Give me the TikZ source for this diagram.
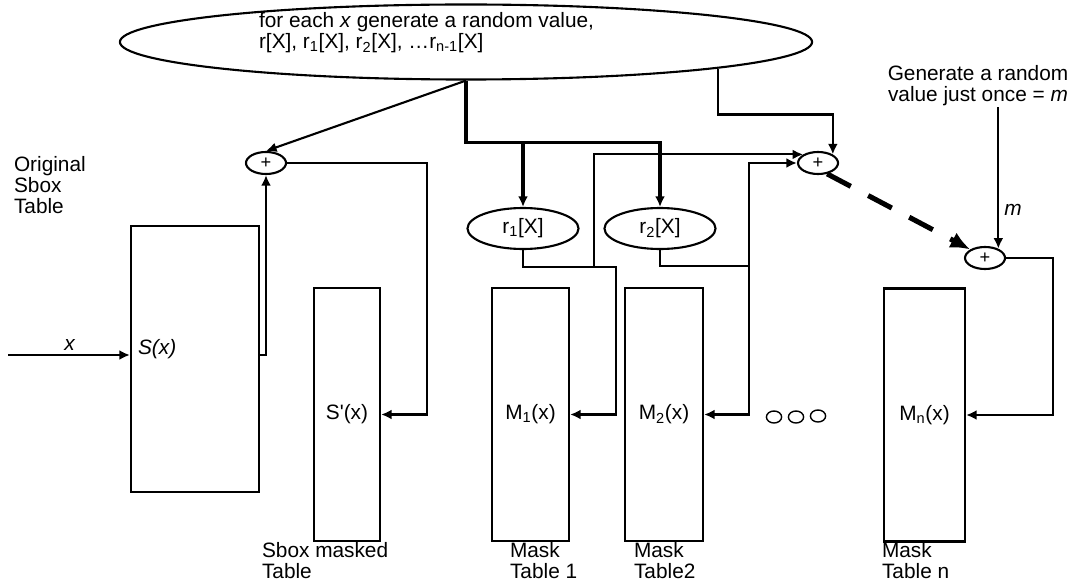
\documentclass[tikz,border=0pt]{standalone}
\usepackage{fontspec}
\setmainfont{Liberation Sans}
\usepackage{tikz}
\usetikzlibrary{arrows.meta,shapes.geometric}

\begin{document}
\begin{tikzpicture}[
  x=0.025cm, y=-0.025cm,
  font=\fontsize{14.8}{15}\selectfont,
  line width=1.5pt,
  tablebox/.style={draw, minimum height=6.325cm, inner sep=0pt},
  xorop/.style={draw, ellipse, minimum width=1cm, minimum height=0.55cm, inner sep=0pt, font=\fontsize{13}{13}\selectfont},
  randval/.style={draw, ellipse, minimum width=2.775cm, minimum height=1.025cm, inner sep=0pt},
  lbl/.style={align=left, inner sep=0pt, anchor=west},
  wire/.style={-{Latex[length=7.5pt, width=7pt]}},
  bus/.style={wire, line width=2.4pt}
]
\useasboundingbox (0,0) rectangle (1082,584);

\node[draw, ellipse, minimum width=17.3cm, minimum height=1.875cm] (gen) at (466,42) {};
\node[lbl] (gentext) at (258,33) {for each \textit{x} generate a random value,\\r[X], r\textsubscript{1}[X], r\textsubscript{2}[X], …r\textsubscript{n-1}[X]};

\node[lbl] (orig) at (13,185) {Original\\Sbox\\Table};
\node[tablebox, minimum width=3.2cm, minimum height=6.65cm] (sbox) at (195,359) {};
\node[lbl] (sx) at (137,349) {\textit{S(x)}};
\coordinate (xin) at (8,355);
\node (xlbl) at (70,345) {\textit{x}};

\node[xorop] (xor1) at (266,163) {+};
\node[tablebox, minimum width=1.65cm] (smask) at (347,414.5) {S\textquotesingle(x)};
\node[lbl] (smasklbl) at (261,561) {Sbox masked\\Table};

\node[randval] (r1) at (523,228.5) {r\textsubscript{1}[X]};
\node[randval] (r2) at (660,228.5) {r\textsubscript{2}[X]};
\node[tablebox, minimum width=1.925cm] (mask1) at (530.5,414.5) {M\textsubscript{1}(x)};
\node[tablebox, minimum width=1.95cm] (mask2) at (664,414.5) {M\textsubscript{2}(x)};
\node[tablebox, minimum width=2.025cm] (maskn) at (924.5,415) {M\textsubscript{n}(x)};
\node[lbl] (mask1lbl) at (509,561) {Mask\\Table 1};
\node[lbl] (mask2lbl) at (633,561) {Mask\\Table2};
\node[lbl] (masknlbl) at (881,561) {Mask\\Table n};

\node[xorop] (xor3) at (818,163) {+};
\node[xorop] (xor4) at (985,258) {+};
\node[align=center, inner sep=0pt] (once) at (978,86) {Generate a random\\value just once = \textit{m}};
\node (mlbl) at (1013,210) {\textit{m}};

\foreach \cx/\cy in {774/417, 796/417, 818/416}
  \draw[line width=1pt] (\cx,\cy) ellipse [x radius=0.19cm, y radius=0.15cm];

\draw[wire] (xin) -- (sbox.west |- xin);
\draw[wire] (sbox.east |- xin) -| (xor1.south);
\draw[wire] (gen.south) -- (xor1.north);
\draw[wire] (xor1.east) -- ++(140,0) |- (smask.east);

\path (gen.south) ++(0,62) coordinate (bus);
\draw[bus] (gen.south) -- (bus) -| (r2.north);
\draw[bus] (bus -| r1.north) -- (r1.north);

\coordinate (tap1) at (616,267);
\coordinate (split1) at (594,267);
\coordinate (tap2) at (749,266);
\draw[wire] (r1.south) |- (tap1) |- (mask1.east);
\draw[wire] (split1) |- (xor3.150);
\draw[wire] (r2.south) |- (tap2) |- (mask2.east);
\draw[wire] (tap2) |- (xor3.west);
\draw[wire] (gen.-6) -- ++(0,46) -| (xor3.30);

\draw[-{Latex[length=14pt, width=12pt]}, line width=3.6pt, dash pattern=on 19pt off 14pt] (xor3.-50) -- (xor4.150);
\draw[wire] (once.south -| xor4.35) -- (xor4.35);
\draw[wire] (xor4.east) -- ++(47,0) |- (maskn.east);
\end{tikzpicture}
\end{document}
